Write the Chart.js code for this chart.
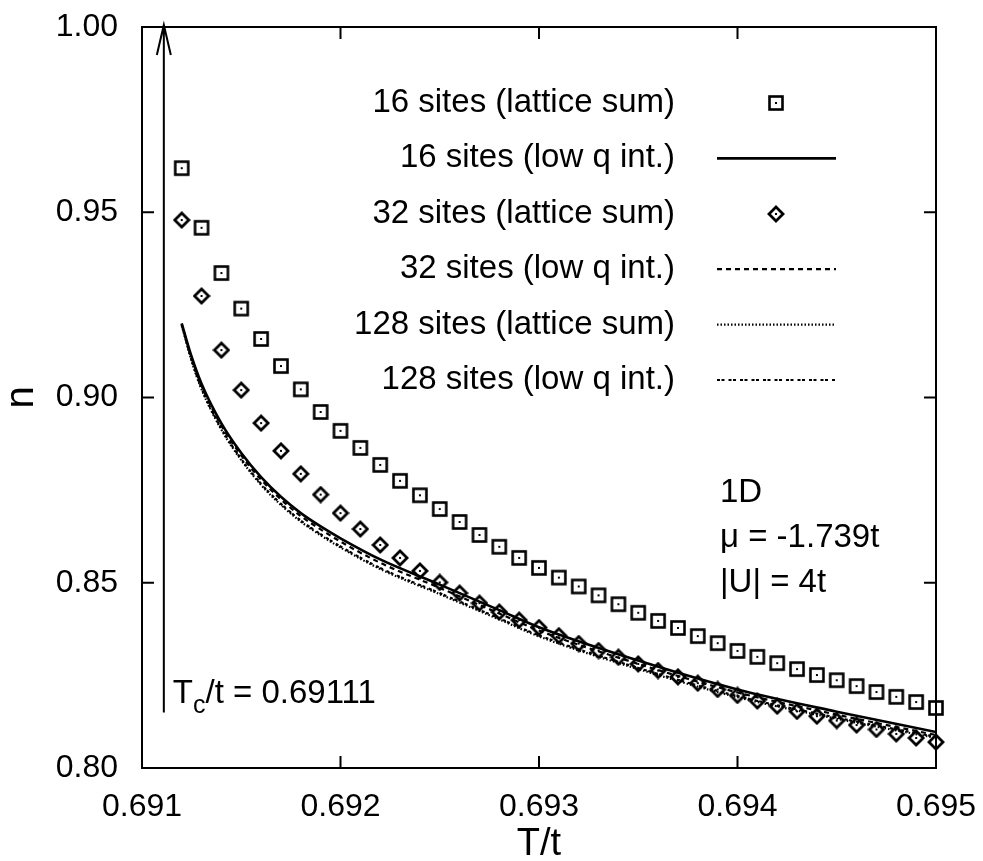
<!DOCTYPE html>
<html>
<head>
<meta charset="utf-8">
<script src="https://cdn.jsdelivr.net/npm/chart.js@4.4.1/dist/chart.umd.min.js"></script>
<style>
  html, body { margin: 0; padding: 0; background: #fff; }
</style>
</head>
<body>
<canvas id="chart" width="983" height="861"></canvas>
<script>
const FONT = '"Liberation Sans", Arial, Helvetica, sans-serif';

// lattice sums, one point every 0.0001 in T/t
const tLattice = [0.6912, 0.6913, 0.6914, 0.6915, 0.6916, 0.6917, 0.6918, 0.6919, 0.6920, 0.6921,
  0.6922, 0.6923, 0.6924, 0.6925, 0.6926, 0.6927, 0.6928, 0.6929, 0.6930, 0.6931,
  0.6932, 0.6933, 0.6934, 0.6935, 0.6936, 0.6937, 0.6938, 0.6939, 0.6940, 0.6941,
  0.6942, 0.6943, 0.6944, 0.6945, 0.6946, 0.6947, 0.6948, 0.6949, 0.6950];
const n16Lattice = [0.9619, 0.9458, 0.9336, 0.9240, 0.9158, 0.9085, 0.9022, 0.8961, 0.8910, 0.8864,
  0.8818, 0.8775, 0.8736, 0.8699, 0.8664, 0.8629, 0.8597, 0.8567, 0.8540, 0.8514,
  0.8490, 0.8466, 0.8442, 0.8419, 0.8397, 0.8378, 0.8356, 0.8337, 0.8316, 0.8300,
  0.8283, 0.8267, 0.8251, 0.8237, 0.8221, 0.8205, 0.8192, 0.8178, 0.8162];
const n32Lattice = [0.9479, 0.9274, 0.9128, 0.9020, 0.8931, 0.8856, 0.8794, 0.8738, 0.8688, 0.8645,
  0.8602, 0.8567, 0.8532, 0.8501, 0.8472, 0.8445, 0.8421, 0.8399, 0.8379, 0.8357,
  0.8336, 0.8317, 0.8299, 0.8281, 0.8263, 0.8246, 0.8229, 0.8212, 0.8196, 0.8181,
  0.8167, 0.8153, 0.8140, 0.8128, 0.8116, 0.8104, 0.8092, 0.8081, 0.8070];

// curves (low q integrals + 128 site sum), read at these T/t
const tCurve = [0.6912, 0.69125, 0.6913, 0.6914, 0.6915, 0.6916, 0.6917, 0.6918, 0.6919,
  0.6920, 0.6922, 0.6925, 0.6928, 0.6930, 0.6935, 0.6940, 0.6945, 0.6950];
const n16LowQ = [0.9200, 0.9110, 0.9037, 0.8930, 0.8850, 0.8785, 0.8732, 0.8688, 0.8652,
  0.8620, 0.8563, 0.8495, 0.8426, 0.8380, 0.8290, 0.8212, 0.8152, 0.8097];
const n32LowQ = [0.9198, 0.9106, 0.9032, 0.8924, 0.8844, 0.8778, 0.8725, 0.8680, 0.8644,
  0.8611, 0.8554, 0.8486, 0.8417, 0.8371, 0.8281, 0.8204, 0.8144, 0.8089];
const n128Lattice = [0.9195, 0.9098, 0.9022, 0.8913, 0.8831, 0.8764, 0.8710, 0.8665, 0.8628,
  0.8595, 0.8537, 0.8469, 0.8401, 0.8355, 0.8267, 0.8191, 0.8133, 0.8081];
const n128LowQ = [0.9197, 0.9101, 0.9025, 0.8916, 0.8834, 0.8767, 0.8713, 0.8668, 0.8631,
  0.8598, 0.8540, 0.8472, 0.8404, 0.8358, 0.8270, 0.8194, 0.8136, 0.8084];

const seriesLabels = ["16 sites (lattice sum)", "16 sites (low q int.)", "32 sites (lattice sum)",
  "32 sites (low q int.)", "128 sites (lattice sum)", "128 sites (low q int.)"];

const xTicks = [0.691, 0.692, 0.693, 0.694, 0.695];
const xTickLabels = ["0.691", "0.692", "0.693", "0.694", "0.695"];
const yTicks = [0.80, 0.85, 0.90, 0.95, 1.00];
const yTickLabels = ["0.80", "0.85", "0.90", "0.95", "1.00"];

const tcValue = 0.69111;
const tcArrowN = [0.815, 1.0];
const noteLines = ["1D", "\u03bc = -1.739t", "|U| = 4t"];

function marker(kind) {
  const c = document.createElement("canvas");
  c.width = 18; c.height = 18;
  const g = c.getContext("2d");
  g.strokeStyle = "#000";
  if (kind === "square") {
    g.lineWidth = 2.6;
    g.strokeRect(2.5, 2.5, 13, 13);
  } else {
    g.beginPath();
    g.moveTo(9, 2); g.lineTo(16, 9); g.lineTo(9, 16); g.lineTo(2, 9); g.closePath();
    g.lineWidth = 2.8;
    g.stroke();
  }
  g.fillStyle = "#000";
  g.fillRect(8, 8, 2, 2);
  return c;
}

const pts = (xs, ys) => xs.map((x, i) => ({ x, y: ys[i] }));

const lineSet = (label, xs, ys, dash, w) => ({
  label, data: pts(xs, ys), showLine: true, pointRadius: 0,
  borderColor: "#000", borderWidth: w, borderDash: dash, borderCapStyle: "butt",
  cubicInterpolationMode: "monotone", fill: false,
});
const pointSet = (label, xs, ys, kind) => ({
  label, data: pts(xs, ys), showLine: false, pointStyle: marker(kind),
  pointRadius: 9, clip: false,
});

const datasets = [
  pointSet(seriesLabels[0], tLattice, n16Lattice, "square"),
  lineSet(seriesLabels[1], tCurve, n16LowQ, [], 2.6),
  pointSet(seriesLabels[2], tLattice, n32Lattice, "diamond"),
  lineSet(seriesLabels[3], tCurve, n32LowQ, [5, 4], 2.2),
  lineSet(seriesLabels[4], tCurve, n128Lattice, [1.5, 2], 2.2),
  lineSet(seriesLabels[5], tCurve, n128LowQ, [3, 1.5, 3, 4], 2.2),
];

const decor = {
  id: "decor",
  afterDatasetsDraw(chart) {
    const { ctx, chartArea: a, scales: { x, y } } = chart;
    ctx.save();
    ctx.strokeStyle = "#000";
    ctx.fillStyle = "#000";
    ctx.lineWidth = 2;
    ctx.setLineDash([]);
    ctx.strokeRect(a.left, a.top, a.right - a.left, a.bottom - a.top);

    // inward ticks on all four sides
    ctx.beginPath();
    xTicks.forEach(v => {
      const px = x.getPixelForValue(v);
      ctx.moveTo(px, a.bottom); ctx.lineTo(px, a.bottom - 12);
      ctx.moveTo(px, a.top); ctx.lineTo(px, a.top + 12);
    });
    yTicks.forEach(v => {
      const py = y.getPixelForValue(v);
      ctx.moveTo(a.left, py); ctx.lineTo(a.left + 12, py);
      ctx.moveTo(a.right, py); ctx.lineTo(a.right - 12, py);
    });
    ctx.stroke();

    // Tc arrow
    const ax = x.getPixelForValue(tcValue);
    const ay0 = y.getPixelForValue(tcArrowN[0]);
    const ay1 = y.getPixelForValue(tcArrowN[1]) - 2;
    ctx.beginPath();
    ctx.moveTo(ax, ay0); ctx.lineTo(ax, ay1);
    ctx.moveTo(ax - 7, ay1 + 30); ctx.lineTo(ax, ay1); ctx.lineTo(ax + 7, ay1 + 30);
    ctx.stroke();

    // Tc label
    const base = a.bottom - 65;
    let tx = ax + 9;
    ctx.textAlign = "left";
    ctx.textBaseline = "alphabetic";
    ctx.font = `33px ${FONT}`;
    ctx.fillText("T", tx, base);
    tx += ctx.measureText("T").width;
    ctx.font = `25px ${FONT}`;
    ctx.fillText("c", tx, base + 10);
    tx += ctx.measureText("c").width;
    ctx.font = `33px ${FONT}`;
    ctx.fillText("/t = " + tcValue.toFixed(5), tx, base);

    // legend
    const legRight = a.left + 533;
    chart.data.datasets.forEach((ds, i) => {
      const ry = a.top + 76 + i * 55.4;
      ctx.font = `33px ${FONT}`;
      ctx.textAlign = "right";
      ctx.textBaseline = "middle";
      ctx.fillText(ds.label, legRight, ry);
      if (ds.showLine) {
        ctx.save();
        ctx.lineWidth = ds.borderWidth;
        ctx.setLineDash(ds.borderDash);
        ctx.beginPath();
        ctx.moveTo(a.left + 575, ry); ctx.lineTo(a.left + 694, ry);
        ctx.stroke();
        ctx.restore();
      } else {
        const m = ds.pointStyle;
        ctx.drawImage(m, Math.round(a.left + 634 - m.width / 2), Math.round(ry - m.height / 2));
      }
    });

    // parameters
    ctx.font = `33px ${FONT}`;
    ctx.textAlign = "left";
    ctx.textBaseline = "middle";
    noteLines.forEach((s, i) => ctx.fillText(s, a.left + 578, a.top + 466 + i * 45));
    ctx.restore();
  }
};

new Chart(document.getElementById("chart"), {
  type: "scatter",
  data: { datasets },
  plugins: [decor],
  options: {
    responsive: false,
    animation: false,
    events: [],
    layout: { padding: 0 },
    plugins: { legend: { display: false }, tooltip: { enabled: false } },
    scales: {
      x: {
        type: "linear", min: 0.691, max: 0.695,
        afterBuildTicks: s => { s.ticks = xTicks.map(v => ({ value: v })); },
        afterFit: s => { s.height = 93; s.paddingLeft = 0; s.paddingRight = 47; },
        grid: { display: false, drawTicks: false },
        border: { display: false },
        ticks: {
          color: "#000", padding: 20, maxRotation: 0, autoSkip: false,
          font: { family: FONT, size: 32 },
          callback: (v, i) => xTickLabels[i],
        },
        title: {
          display: true, text: "T/t", color: "#000", padding: 0,
          font: { family: FONT, size: 38, lineHeight: 0.85 },
        },
      },
      y: {
        type: "linear", min: 0.80, max: 1.00,
        afterBuildTicks: s => { s.ticks = yTicks.map(v => ({ value: v })); },
        afterFit: s => { s.width = 142; s.paddingTop = 27; s.paddingBottom = 0; },
        grid: { display: false, drawTicks: false },
        border: { display: false },
        ticks: {
          color: "#000", padding: 24, autoSkip: false,
          font: { family: FONT, size: 32 },
          callback: (v, i) => yTickLabels[i],
        },
        title: {
          display: true, text: "n", color: "#000", padding: 0,
          font: { family: FONT, size: 40, lineHeight: 1.1 },
        },
      },
    },
  },
});
</script>
</body>
</html>
